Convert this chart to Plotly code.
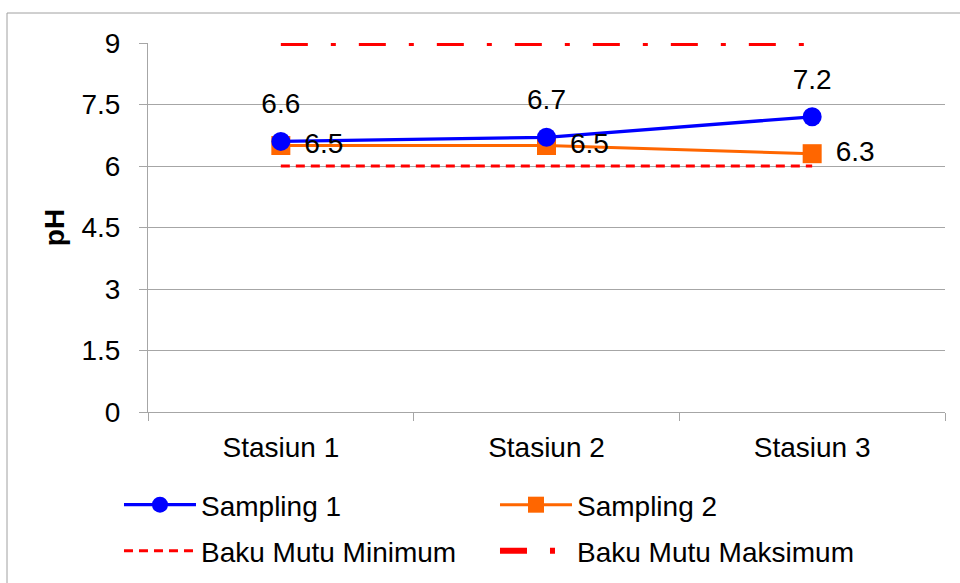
import plotly.graph_objects as go

# pH readings per sampling station
stations = ["Stasiun 1", "Stasiun 2", "Stasiun 3"]
sampling_1 = [6.6, 6.7, 7.2]
sampling_2 = [6.5, 6.5, 6.3]
baku_mutu_min = [6, 6, 6]
baku_mutu_max = [9, 9, 9]
y_ticks = [0, 1.5, 3, 4.5, 6, 7.5, 9]

FONT = "Liberation Sans, Arial, sans-serif"
GRID = "#a6a6a6"
FS = 28

fig = go.Figure()

fig.add_trace(go.Scatter(
    x=stations, y=baku_mutu_min, name="Baku Mutu Minimum", mode="lines",
    line=dict(color="#ff0000", width=3, dash="9px,6px"),
    legend="legend2",
))
fig.add_trace(go.Scatter(
    x=stations, y=baku_mutu_max, name="Baku Mutu Maksimum", mode="lines",
    line=dict(color="#ff0000", width=6, dash="27px,23px,5px,23px"),
    legend="legend2", cliponaxis=False,
))
fig.add_trace(go.Scatter(
    x=stations, y=sampling_2, name="Sampling 2", mode="lines+markers",
    line=dict(color="#ff6600", width=3),
    marker=dict(symbol="square", size=19, color="#ff6600"),
    legend="legend",
))
fig.add_trace(go.Scatter(
    x=stations, y=sampling_1, name="Sampling 1", mode="lines+markers",
    line=dict(color="#0000ff", width=3.3),
    marker=dict(symbol="circle", size=19, color="#0000ff"),
    legend="legend",
))

# value labels; the invisible marker size sets the gap between point and text
for values, pos, gap in [(sampling_2, "middle right", 36), (sampling_1, "top center", 32)]:
    fig.add_trace(go.Scatter(
        x=stations, y=values, mode="markers+text",
        marker=dict(size=gap, color="rgba(0,0,0,0)"),
        text=[str(v) for v in values], textposition=pos,
        textfont=dict(size=FS, color="#000000", family=FONT),
        showlegend=False, hoverinfo="skip", cliponaxis=False,
    ))

legend_common = dict(
    orientation="h", xanchor="left", yanchor="middle",
    font=dict(size=FS, family=FONT, color="#000000"),
    entrywidth=289, entrywidthmode="pixels",
    bgcolor="rgba(0,0,0,0)", itemwidth=72,
)

fig.update_layout(
    width=960, height=583,
    margin=dict(l=148, r=15, t=43, b=171, autoexpand=False),
    paper_bgcolor="#ffffff", plot_bgcolor="#ffffff",
    font=dict(family=FONT, size=FS, color="#000000"),
    legend=dict(x=-0.0364, y=-0.252, traceorder="reversed", **legend_common),
    legend2=dict(x=-0.0364, y=-0.377, traceorder="normal", **legend_common),
    xaxis=dict(
        type="category", range=[-0.5, 2.5],
        tickson="boundaries", ticks="outside", ticklen=8, tickcolor=GRID,
        showline=True, linecolor=GRID, linewidth=1,
        showgrid=False, ticklabelstandoff=10, automargin=False,
        tickfont=dict(size=FS, family=FONT),
    ),
    yaxis=dict(
        range=[0, 9], tickvals=y_ticks, ticktext=[f"{v:g}" for v in y_ticks],
        ticks="outside", ticklen=8, tickcolor=GRID,
        showline=True, linecolor=GRID, linewidth=1,
        showgrid=True, gridcolor=GRID, gridwidth=1, zeroline=False,
        ticklabelstandoff=13, automargin=False,
        tickfont=dict(size=FS, family=FONT),
        title=dict(text="<b>pH</b>", font=dict(size=FS, family=FONT), standoff=8),
    ),
    showlegend=True,
)

# chart frame
fig.add_shape(type="rect", xref="paper", yref="paper",
              x0=-0.1769, y0=1.0813, x1=1.2, y1=-0.6,
              line=dict(color="#a0a0a0", width=1), layer="below")

fig.write_html("out.html")
